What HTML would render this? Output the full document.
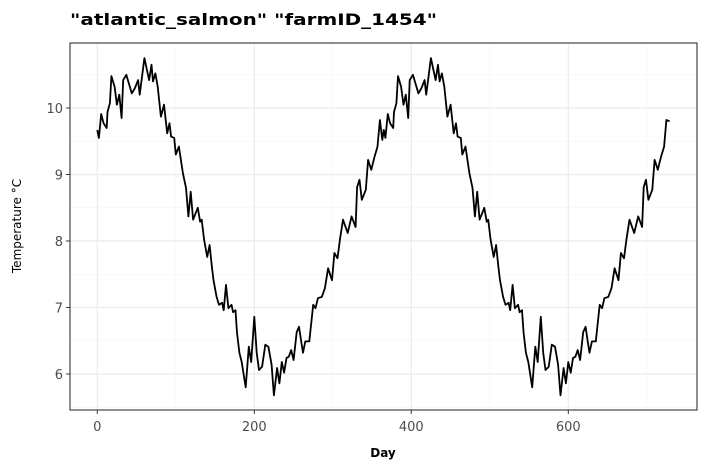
<!DOCTYPE html>
<html><head><meta charset="utf-8"><style>
body{margin:0;background:#fff;font-family:"DejaVu Sans","Liberation Sans",sans-serif}
</style></head><body>
<svg width="708" height="472" xmlns="http://www.w3.org/2000/svg" id="svg" font-family="DejaVu Sans, Liberation Sans, sans-serif">
<text x="70" y="25" font-size="16" font-weight="bold" fill="#000" textLength="367" lengthAdjust="spacingAndGlyphs">"atlantic_salmon" "farmID_1454"</text>
<text transform="translate(21,226) rotate(-90)" text-anchor="middle" font-size="12" fill="#000">Temperature °C</text>
<text x="383" y="457" text-anchor="middle" font-size="12" font-weight="bold" fill="#000">Day</text>
<g id="grid"></g><g id="axes"></g><g id="series"></g>
<rect x="70" y="43" width="627" height="367" fill="none" stroke="#333" stroke-width="1.1"/>
</svg>
<script>
const year1Days=[0,2,5,8,12,13,16,18,22,25,28,31,33,37,44,48,52,54,60,66,69,71,74,77,81,85,89,92,94,98,100,104,109,113,116,119,122,128,131,133,136,140,143,146,148,152,155,159,161,164,167,171,173,176,178,181,184,189,193,196,200,203,206,210,214,218,222,225,229,232,235,238,241,244,247,250,254,257,260,262,265,270,275,278,281,286,290,294,299,302,306,309,313,319,324,329,331,334,337,342,345,349,353,357,360,363];
const year1Temps=[9.67,9.55,9.91,9.77,9.70,9.94,10.07,10.48,10.32,10.05,10.20,9.85,10.42,10.5,10.22,10.3,10.42,10.2,10.75,10.42,10.65,10.4,10.52,10.32,9.87,10.05,9.62,9.77,9.57,9.55,9.3,9.42,9.02,8.8,8.37,8.74,8.32,8.5,8.29,8.32,8.02,7.76,7.94,7.61,7.41,7.16,7.04,7.07,6.96,7.34,6.99,7.04,6.93,6.96,6.62,6.32,6.18,5.8,6.41,6.18,6.86,6.32,6.06,6.11,6.44,6.41,6.14,5.68,6.09,5.86,6.18,6.02,6.24,6.26,6.36,6.21,6.63,6.71,6.47,6.32,6.49,6.49,7.04,6.99,7.14,7.16,7.29,7.59,7.41,7.82,7.74,8.02,8.32,8.12,8.37,8.21,8.81,8.92,8.62,8.77,9.22,9.07,9.26,9.42,9.82,9.52];
const year2Days=[365,367,370,373,377,378,381,383,387,390,393,396,398,402,409,413,417,419,425,431,434,436,439,442,446,450,454,457,459,463,465,469,474,478,481,484,487,493,496,498,501,505,508,511,513,517,520,524,526,529,532,536,538,541,543,546,549,554,558,561,565,568,571,575,579,583,587,590,594,597,600,603,606,609,612,615,619,622,625,627,630,635,640,643,646,651,655,659,664,667,671,674,678,684,689,694,696,699,702,707,710,714,718,722,725,729];
const year2Temps=[9.67,9.55,9.91,9.77,9.70,9.94,10.07,10.48,10.32,10.05,10.20,9.85,10.42,10.5,10.22,10.3,10.42,10.2,10.75,10.42,10.65,10.4,10.52,10.32,9.87,10.05,9.62,9.77,9.57,9.55,9.3,9.42,9.02,8.8,8.37,8.74,8.32,8.5,8.29,8.32,8.02,7.76,7.94,7.61,7.41,7.16,7.04,7.07,6.96,7.34,6.99,7.04,6.93,6.96,6.62,6.32,6.18,5.8,6.41,6.18,6.86,6.32,6.06,6.11,6.44,6.41,6.14,5.68,6.09,5.86,6.18,6.02,6.24,6.26,6.36,6.21,6.63,6.71,6.47,6.32,6.49,6.49,7.04,6.99,7.14,7.16,7.29,7.59,7.41,7.82,7.74,8.02,8.32,8.12,8.37,8.21,8.81,8.92,8.62,8.77,9.22,9.07,9.26,9.42,9.82,9.8];
const xTicks=[0,200,400,600];
const xMinor=[100,300,500,700];
const yTicks=[6,7,8,9,10];
const yMinor=[5.5,6.5,7.5,8.5,9.5,10.5];
const NS="http://www.w3.org/2000/svg";
const X=d=>97.3+d*0.785;
const Y=t=>108-(t-10)*66.5;
function mk(tag,attrs,parent){const e=document.createElementNS(NS,tag);for(const k in attrs)e.setAttribute(k,attrs[k]);parent.appendChild(e);return e;}
const grid=document.getElementById('grid'),axes=document.getElementById('axes'),series=document.getElementById('series');
yMinor.forEach(v=>{const l=mk('line',{x1:70,x2:697,y1:Y(v),y2:Y(v),stroke:'#f3f3f3','stroke-width':0.6},grid);

});
xMinor.forEach(v=>{const l=mk('line',{x1:X(v),x2:X(v),y1:43,y2:410,stroke:'#f3f3f3','stroke-width':0.6},grid);

});
yTicks.forEach(v=>{const l=mk('line',{x1:70,x2:697,y1:Y(v),y2:Y(v),stroke:'#ebebeb','stroke-width':1.2},grid);


const t=mk('line',{x1:66,x2:70,y1:Y(v),y2:Y(v),stroke:'#333','stroke-width':1},axes);


const s=mk('text',{x:63,y:Y(v)+5,'text-anchor':'end','font-size':13,fill:'#4d4d4d'},axes);s.textContent=v;

});
xTicks.forEach(v=>{const l=mk('line',{x1:X(v),x2:X(v),y1:43,y2:410,stroke:'#ebebeb','stroke-width':1.2},grid);


const t=mk('line',{x1:X(v),x2:X(v),y1:410,y2:414,stroke:'#333','stroke-width':1},axes);


const s=mk('text',{x:X(v),y:431,'text-anchor':'middle','font-size':13,fill:'#4d4d4d'},axes);s.textContent=v;

});
const days=year1Days.concat(year2Days),temps=year1Temps.concat(year2Temps);
const d=days.map((v,i)=>(i?'L':'M')+X(v).toFixed(1)+','+Y(temps[i]).toFixed(1)).join('');
const p=mk('path',{d:d,fill:'none',stroke:'#000','stroke-width':1.8,'stroke-linejoin':'round'},series);


</script>
</body></html>
